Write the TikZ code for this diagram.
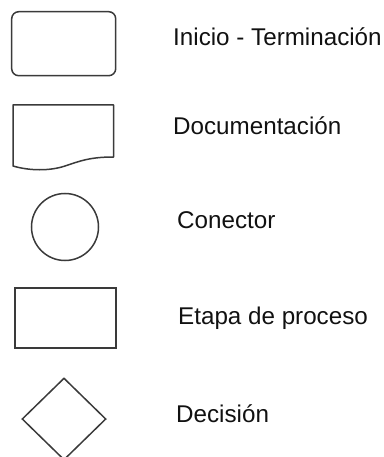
\documentclass[tikz,border=0pt]{standalone}
\usepackage{fontspec}
\setmainfont{Liberation Sans}
\usetikzlibrary{shapes.geometric}
\definecolor{edge}{HTML}{3A3A3A}
\definecolor{ink}{HTML}{111111}
\begin{document}
\begin{tikzpicture}[x=1pt,y=1pt,
  shp/.style={draw=edge,line width=1.5pt,inner sep=0pt},
  lbl/.style={anchor=base west,inner sep=0pt,text=ink,font=\fontsize{24.2}{28}\selectfont}]
\useasboundingbox (0,0) rectangle (383,-457);
% shapes
\node[shp,rectangle,rounded corners=7pt,minimum width=104pt,minimum height=64pt] (term) at (63.7,-43.7) {};
\draw[draw=edge,line width=1.5pt,line join=round] (13,-166) -- (13,-105) -- (113.5,-105) -- (113.5,-157)
  .. controls (90,-157) and (80,-161) .. (65,-166)
  .. controls (50,-171) and (30,-171) .. (13,-166) -- cycle;
\coordinate (doc) at (63,-135);
\node[shp,circle,minimum size=67pt] (con) at (65,-227) {};
\node[shp,rectangle,minimum width=101pt,minimum height=60pt] (proc) at (65.5,-318) {};
\node[shp,diamond,aspect=1.02,minimum width=84pt,minimum height=82pt] (dec) at (64,-419) {};
% labels
\node[lbl] (t1) at (173,-46) {Inicio - Terminación};
\node[lbl] (t2) at (173,-135) {Documentación};
\node[lbl] (t3) at (177,-228) {Conector};
\node[lbl] (t4) at (178,-324) {Etapa de proceso};
\node[lbl] (t5) at (176,-422) {Decisión};
\end{tikzpicture}
\end{document}
